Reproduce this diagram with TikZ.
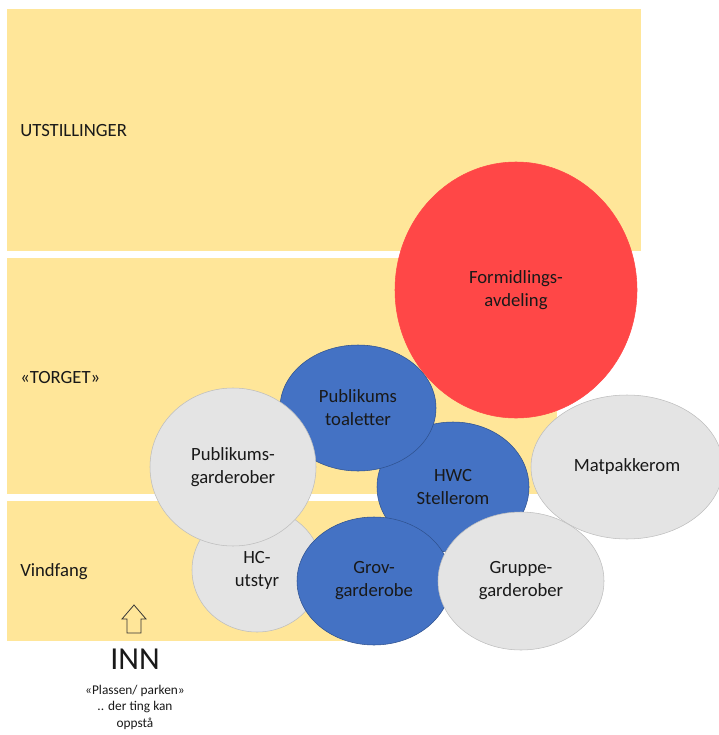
\documentclass[tikz,border=0pt]{standalone}
\usepackage{fontspec}
\setmainfont{Carlito}
\usetikzlibrary{shapes.geometric}
\definecolor{zoneyellow}{HTML}{FFE699}
\definecolor{roomgray}{HTML}{E4E4E4}
\definecolor{edgegray}{HTML}{BDBDBD}
\definecolor{roomblue}{HTML}{4472C4}
\definecolor{edgeblue}{HTML}{2F528F}
\definecolor{roomred}{HTML}{FF4747}
\tikzset{
    room/.style={align=center, ellipse, inner sep=0pt, text centered, text=black!90, font=\fontsize{14}{17.3}\selectfont},
    grayroom/.style={room, fill=roomgray, draw=edgegray, thin},
    blueroom/.style={room, fill=roomblue, draw=edgeblue, thin},
    redroom/.style={room, fill=roomred, draw=roomred},
    zone/.style={fill=zoneyellow},
    zonelabel/.style={anchor=west, inner sep=0pt, text=black!90, font=\fontsize{14}{17}\selectfont}
}

\begin{document}
\begin{tikzpicture}[x=0.75pt, y=-0.75pt]
\useasboundingbox (0,0) rectangle (718,735);

% soner
\fill[zone] (7,9) rectangle (641,251);
\fill[zone] (7,258) rectangle (557,494);
\fill[zone] (7,501) rectangle (400,641);

\node[zonelabel] (utst) at (20,131) {UTSTILLINGER};
\node[zonelabel] (torg) at (20,378) {«TORGET»};
\node[zonelabel] (vind) at (20,572) {Vindfang};

% rom
\node[redroom, minimum width=181.5pt, minimum height=192pt] (form) at (516,290) {Formidlings-\\avdeling};
\node[blueroom, minimum width=114pt, minimum height=97.5pt] (hwc) at (453,487) {HWC\\Stellerom};
\node[blueroom, minimum width=117pt, minimum height=94.5pt] (toal) at (358,408) {Publikums\\toaletter};
\node[grayroom, minimum width=97.5pt, minimum height=93pt] (hc) at (257,570) {HC-\\utstyr};
\node[grayroom, minimum width=124.5pt, minimum height=118.5pt] (pgard) at (233,467) {Publikums-\\garderober};
\node[blueroom, minimum width=115.5pt, minimum height=96pt] (grov) at (374,581) {Grov-\\garderobe};
\node[grayroom, minimum width=144pt, minimum height=108pt] (matp) at (627,467) {Matpakkerom};
\node[grayroom, minimum width=124.5pt, minimum height=103.5pt] (grupp) at (521,581) {Gruppe-\\garderober};

% inngang
\draw[black!80, line width=0.6pt, line join=miter]
    (127,633) -- (127,619) -- (122,619) -- (134,605) -- (146,619) -- (141,619) -- (141,633) -- cycle;
\node[inner sep=0pt, font=\fontsize{24}{28}\selectfont, text=black!90] (inn) at (135,659) {INN};
\node[align=center, inner sep=0pt, font=\fontsize{10}{12.4}\selectfont, text=black!90] (plass) at (135,707)
    {«Plassen/ parken»\\.. der ting kan\\oppstå};

\end{tikzpicture}
\end{document}
